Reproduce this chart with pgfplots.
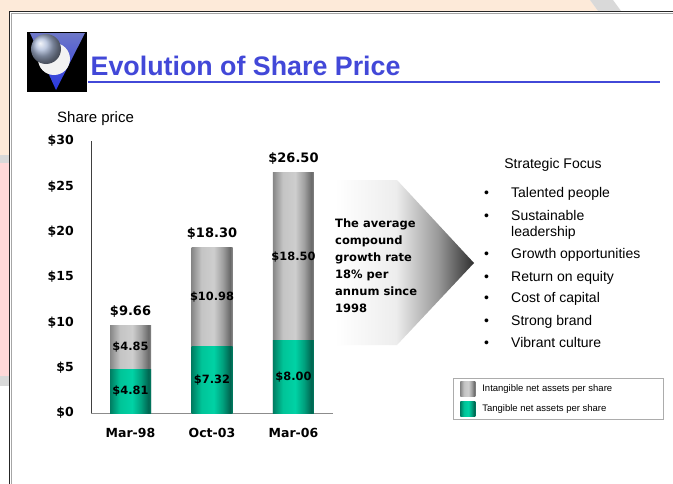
\documentclass[border=0pt]{standalone}
\usepackage{fontspec}
\setmainfont{Liberation Sans}
\newfontfamily\dvs{DejaVu Sans}
\usepackage{pgfplots}
\pgfplotsset{compat=1.18}
\definecolor{titleblue}{RGB}{66,72,216}
\definecolor{peach}{RGB}{253,234,217}
\definecolor{pinkc}{RGB}{255,217,217}
\definecolor{bandgrey}{RGB}{217,217,217}
\definecolor{gA}{RGB}{135,135,135}
\definecolor{gB}{RGB}{196,196,196}
\definecolor{gC}{RGB}{206,206,206}
\definecolor{gE}{RGB}{160,160,160}
\definecolor{gD}{RGB}{105,105,105}
\definecolor{tA}{RGB}{0,125,98}
\definecolor{tB}{RGB}{0,196,152}
\definecolor{tC}{RGB}{0,210,165}
\definecolor{tE}{RGB}{0,160,125}
\definecolor{tD}{RGB}{0,100,80}
\pgfdeclarehorizontalshading{greybar}{100bp}{color(0bp)=(gA); color(25bp)=(gA); color(37bp)=(gB); color(52bp)=(gC); color(63bp)=(gE); color(72bp)=(gD); color(75bp)=(gA); color(100bp)=(gA)}
\pgfdeclarehorizontalshading{tealbar}{100bp}{color(0bp)=(tA); color(25bp)=(tA); color(37bp)=(tB); color(52bp)=(tC); color(63bp)=(tE); color(72bp)=(tD); color(75bp)=(tA); color(100bp)=(tA)}
\pgfdeclarehorizontalshading{arrowsh}{100bp}{color(0bp)=(white); color(25bp)=(white); color(47bp)=(white!93!black); color(62bp)=(black!40); color(75bp)=(black!82); color(100bp)=(black!82)}
\begin{document}
\begin{tikzpicture}
\useasboundingbox (0,0) rectangle (673bp,-484bp);
\begin{scope}[x=1bp,y=-1bp]
\fill[white] (0,0) rectangle (673,484);
% slide background strips
\fill[peach] (0,0) rectangle (9,155);
\fill[bandgrey] (0,155) rectangle (9,163);
\fill[pinkc] (0,163) rectangle (9,376);
\fill[bandgrey] (0,376) rectangle (9,386);
\fill[peach] (0,0) -- (590,0) -- (598,11) -- (0,11) -- cycle;
\fill[bandgrey] (590,0) -- (613,0) -- (621,11) -- (598,11) -- cycle;
% frame
\draw[black!85, line width=1.6bp] (9.5,484) -- (9.5,11.5) -- (673,11.5);
\draw[gray!70, line width=0.6bp] (11,484) -- (11,13) -- (673,13);
% logo
\fill[black] (27,32) rectangle (87,92);
\shade[top color={rgb,255:red,110;green,120;blue,200}, bottom color={rgb,255:red,40;green,55;blue,225}] (30,33) -- (85,33) -- (56,90) -- cycle;
\fill[white!90!gray] (54,59) circle (16);
\shade[ball color={rgb,255:red,170;green,185;blue,215}] (46,49) circle (15);
% title
\node[anchor=base west, inner sep=0pt, text=titleblue, font=\bfseries\fontsize{26.8bp}{30bp}\selectfont] at (90.5,75) {Evolution of Share Price};
\fill[titleblue] (88,80.5) rectangle (660,83);
% share price label
\node[anchor=base west, inner sep=0pt, font=\fontsize{15bp}{17bp}\selectfont] at (57,122) {Share price};
% arrow
\shade[shading=arrowsh] (335,180) -- (397,180) -- (474,263) -- (397,345) -- (335,345) -- cycle;
% annotation
\begin{scope}[every node/.style={anchor=base west, inner sep=0pt, font=\dvs\bfseries\fontsize{11.5bp}{13bp}\selectfont}]
\node at (335,227) {The average};
\node at (335,244) {compound};
\node at (335,261) {growth rate};
\node at (335,278) {18\% per};
\node at (335,295) {annum since};
\node at (335,312) {1998};
\end{scope}
% strategic focus
\node[anchor=base, inner sep=0pt, font=\fontsize{14bp}{16bp}\selectfont] at (553,168) {Strategic Focus};
\begin{scope}[every node/.style={anchor=base west, inner sep=0pt, font=\fontsize{14bp}{16bp}\selectfont}]
\node at (484,197) {\textbullet};
\node at (511,197) {Talented people};
\node at (484,220) {\textbullet};
\node at (511,220) {Sustainable};
\node at (511,236) {leadership};
\node at (484,258) {\textbullet};
\node at (511,258) {Growth opportunities};
\node at (484,281) {\textbullet};
\node at (511,281) {Return on equity};
\node at (484,302) {\textbullet};
\node at (511,302) {Cost of capital};
\node at (484,325) {\textbullet};
\node at (511,325) {Strong brand};
\node at (484,347) {\textbullet};
\node at (511,347) {Vibrant culture};
\end{scope}
\end{scope}
\begin{axis}[
  at={(91bp,-413bp)}, anchor=south west,
  scale only axis, width=242bp, height=272bp,
  xmin=-0.485, xmax=2.485, ymin=0, ymax=30,
  clip=false,
  axis x line=bottom, axis y line=left,
  axis line style={-},
  x axis line style={draw=gray!90, line width=0.8bp},
  y axis line style={draw=black!75, line width=0.8bp},
  major tick length=0pt,
  xtick={0,1,2}, xticklabels={Mar-98,Oct-03,Mar-06},
  ytick={0,5,10,15,20,25,30},
  yticklabels={\$0,\$5,\$10,\$15,\$20,\$25,\$30},
  ticklabel style={font=\dvs\bfseries\fontsize{12.5bp}{14bp}\selectfont},
  yticklabel style={anchor=east, inner sep=0pt, xshift=-17bp},
  xticklabel style={anchor=north, inner sep=0pt, yshift=-15bp},
  legend cell align=left,
  legend style={at={(axis description cs:1.496,0.1287)}, anchor=north west,
    draw=gray!65, line width=0.6bp, inner xsep=7bp, inner ysep=3bp,
    row sep=5bp,
    font=\fontsize{9.5bp}{11bp}\selectfont,
    /tikz/every odd column/.append style={column sep=5bp}},
  every axis plot/.append style={bar width=41bp, bar shift=0pt, draw=none},
  tot/.style={ybar, shade, shading=greybar, forget plot,
    nodes near coords, point meta=explicit symbolic,
    every node near coord/.append style={anchor=center, yshift=14bp,
      font=\dvs\bfseries\fontsize{13bp}{15bp}\selectfont}},
  tang/.style={ybar, shade, shading=tealbar, forget plot},
]
% total share price (grey = intangible part visible above tangible)
\addplot[tot] coordinates {(0,9.66) [\$9.66]};
\addplot[tang] coordinates {(0,4.81)};
\addplot[tot] coordinates {(1,18.30) [\$18.30]};
\addplot[tang] coordinates {(1,7.32)};
\addplot[tot] coordinates {(2,26.50) [\$26.50]};
\addplot[tang] coordinates {(2,8.00)};
% segment labels (intangible 4.85, 10.98, 18.50; tangible 4.81, 7.32, 8.00)
\addplot[draw=none, mark=none, forget plot, nodes near coords, point meta=explicit symbolic,
  every node near coord/.append style={anchor=center, font=\dvs\bfseries\fontsize{11.4bp}{13bp}\selectfont}]
  coordinates {(0,7.235) [\$4.85] (0,2.405) [\$4.81] (1,12.81) [\$10.98] (1,3.66) [\$7.32] (2,17.25) [\$18.50] (2,4.00) [\$8.00]};
\addlegendimage{legend image code/.code={\shade[shading=greybar] (0bp,-7.5bp) rectangle (15bp,7.5bp);}}
\addlegendentry{\makebox[172bp][l]{Intangible net assets per share}}
\addlegendimage{legend image code/.code={\shade[shading=tealbar] (0bp,-7.5bp) rectangle (15bp,7.5bp);}}
\addlegendentry{\makebox[172bp][l]{Tangible net assets per share}}
\end{axis}
\end{tikzpicture}
\end{document}
